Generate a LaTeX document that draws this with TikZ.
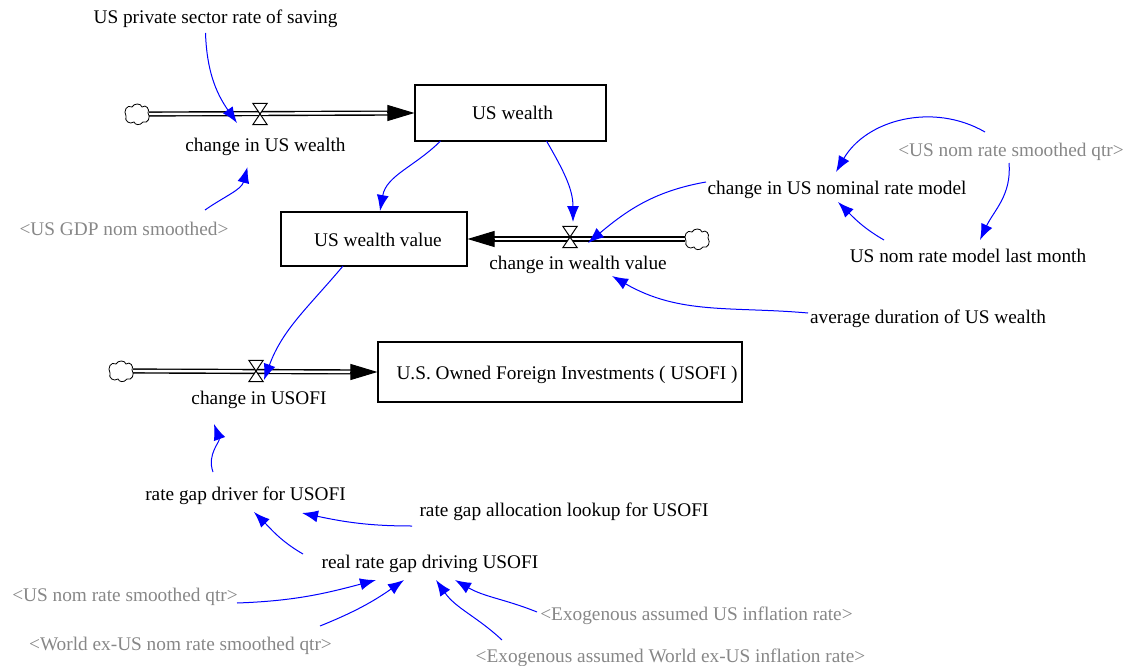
\documentclass[tikz,border=0pt]{standalone}
\usepackage{fontspec}
\setmainfont{Liberation Serif}
\usetikzlibrary{arrows.meta,calc}
\definecolor{shadowtext}{RGB}{135,135,135}
\begin{document}
\begin{tikzpicture}[x=1pt,y=-1pt,
  every node/.style={font=\fontsize{19.3}{23}\selectfont, inner sep=0pt, text height=15pt, text depth=1pt},
  ghost/.style={text=shadowtext},
  stock/.style={draw, line width=1.1pt, fill=white},
  cloudbox/.style={minimum width=24pt, minimum height=21pt, inner sep=0pt},
  cloudline/.style={draw, fill=white, line width=0.8pt},
  valvebox/.style={minimum width=14pt, minimum height=21pt, inner sep=0pt},
  valveshape/.style={draw, fill=white, line width=1pt},
  pipe/.style={draw, double, double distance=2.4pt, line width=1.4pt},
  flowtip/.style={line width=1pt, -{Triangle[length=27pt,width=16pt]}},
  infl/.style={blue, line width=1pt, -{Latex[length=16pt,width=12pt]}}
]
\useasboundingbox (0,0) rectangle (1135,666);

% stocks
\node[stock, minimum width=191pt, minimum height=56pt] (usw) at (510.5,113) {\hspace*{4pt}US wealth};
\node[stock, minimum width=186pt, minimum height=54pt] (uwv) at (374,239) {\hspace*{8pt}US wealth value};
\node[stock, minimum width=364pt, minimum height=60pt] (usofi) at (560,372) {\hspace*{14pt}U.S. Owned Foreign Investments ( USOFI )};

% clouds
\node[cloudbox] (c1) at (137,114) {};
\node[cloudbox] (c2) at (697,239) {};
\node[cloudbox] (c3) at (121,371) {};

% valves
\node[valvebox] (v1) at (260,114) {};
\node[valvebox] (v2) at (570,237) {};
\node[valvebox] (v3) at (256,371) {};

% pipes
\draw[pipe, shorten >=20pt] (c1.east) -- (usw.west);
\draw[flowtip] ($(usw.west)+(-27,0)$) -- (usw.west);
\draw[pipe, shorten >=20pt] (c2.west) -- (uwv.east);
\draw[flowtip] ($(uwv.east)+(27,0)$) -- (uwv.east);
\draw[pipe, shorten >=20pt] (c3.east) -- (usofi.west);
\draw[flowtip] ($(usofi.west)+(-27,0)$) -- (usofi.west);

% cloud outlines
\foreach \c in {c1,c2,c3}{
  \draw[cloudline, shift={(\c.center)}]
    (-11,2) .. controls (-14,-3) and (-10,-10) .. (-5,-7)
    .. controls (-3,-11) and (4,-11) .. (5,-7)
    .. controls (9,-10) and (13,-5) .. (11,-1)
    .. controls (14,3) and (11,10) .. (6,8)
    .. controls (3,12) and (-2,11) .. (-3,8)
    .. controls (-7,11) and (-13,7) .. (-11,2) -- cycle;
}

% valve shapes
\foreach \v in {v1,v2,v3}{
  \draw[valveshape] (\v.north west) -- (\v.north east) -- (\v.south west) -- (\v.south east) -- cycle;
}

% labels
\node (sav) at (215.5,17) {US private sector rate of saving};
\node (cw) at (265.5,145) {change in US wealth};
\node[ghost] (gdp) at (124,228) {<US GDP nom smoothed>};
\node (cwv) at (578,262) {change in wealth value};
\node (cnr) at (837,187) {change in US nominal rate model};
\node[ghost] (unr1) at (1011,150) {<US nom rate smoothed qtr>};
\node (lm) at (968,255) {US nom rate model last month};
\node (adw) at (928,316) {average duration of US wealth};
\node (cu) at (259,397) {change in USOFI};
\node (rgd) at (245.5,493) {rate gap driver for USOFI};
\node (rgl) at (564,509) {rate gap allocation lookup for USOFI};
\node (rrg) at (430,561) {real rate gap driving USOFI};
\node[ghost] (unr2) at (125,594) {<US nom rate smoothed qtr>};
\node[ghost] (wx) at (180.5,643) {<World ex-US nom rate smoothed qtr>};
\node[ghost] (eus) at (696.5,613) {<Exogenous assumed US inflation rate>};
\node[ghost] (ewx) at (670.5,655) {<Exogenous assumed World ex-US inflation rate>};

% influence arrows
\draw[infl] ($(sav)+(-10,16)$) to[out=-88,in=125] ($(v1)+(-23,9)$);
\draw[infl] ($(gdp)+(81,-18)$) to[out=35,in=-105] ($(cw)+(-18,22)$);
\draw[infl] ($(usw)+(-70,28)$) to[out=-135,in=80] ($(uwv)+(6,-28)$);
\draw[infl] ($(usw)+(36,28)$) to[out=-60,in=90] ($(v2)+(3,-15)$);
\draw[infl] ($(cnr)+(-131,-5)$) to[out=190,in=40] ($(v2)+(18,6)$);
\draw[infl] ($(unr1)+(-26,-18)$) to[out=150,in=60] ($(cnr)+(-1,-15)$);
\draw[infl] ($(unr1)+(-2,13)$) to[out=-85,in=65] ($(lm)+(12,-15)$);
\draw[infl] ($(lm)+(-84,-15)$) to[out=150,in=-45] ($(cnr)+(1,15)$);
\draw[infl] ($(adw)+(-120,-3)$) to[out=175,in=-30] ($(cwv)+(34,14)$);
\draw[infl] ($(uwv)+(-31,27)$) to[out=-130,in=70] ($(v3)+(8,9)$);
\draw[infl] ($(rgd)+(-32.5,-21)$) to[out=110,in=-70] ($(cu)+(-45,27)$);
\draw[infl] ($(rgl)+(-152,17)$) to[out=180,in=-12] ($(rgd)+(56.5,20)$);
\draw[infl] ($(rrg)+(-127,-7)$) to[out=150,in=-45] ($(rgd)+(8.5,19)$);
\draw[infl] ($(unr2)+(112,9)$) to[out=2,in=-165] ($(rrg)+(-54,19)$);
\draw[infl] ($(wx)+(139.5,-17)$) to[out=22,in=-145] ($(rrg)+(-26,19)$);
\draw[infl] ($(eus)+(-159.5,-1)$) to[out=158,in=-30] ($(rrg)+(25,19)$);
\draw[infl] ($(ewx)+(-168.5,-15)$) to[out=137,in=-55] ($(rrg)+(6,19)$);
\end{tikzpicture}
\end{document}
